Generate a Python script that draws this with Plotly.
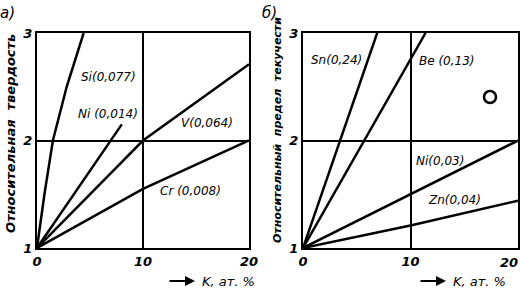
import plotly.graph_objects as go

# ---- data ----
# panel а) relative hardness
si_k = [0, 0.7, 1.5, 2.8, 4.4]
si_y = [1, 1.5, 2.0, 2.5, 3.0]
ni_a_k = [0, 8.0]
ni_a_y = [1, 2.15]
v_k = [0, 5, 10, 20]
v_y = [1, 1.5, 2.0, 2.71]
cr_k = [0, 10, 20]
cr_y = [1, 1.55, 2.0]

# panel б) relative yield stress
sn_k = [0, 6.9]
sn_y = [1, 3.0]
be_k = [0, 11.4]
be_y = [1, 3.0]
ni_b_k = [0, 20]
ni_b_y = [1, 2.0]
zn_k = [0, 10, 20]
zn_y = [1, 1.21, 1.44]

x_ticks = [0, 10, 20]
x_labels = ["0", "10", "20"]
y_ticks = [1, 2, 3]

W, H = 520, 288
fig = go.Figure()

line = dict(color="black", width=2.5)
for k, y in [(si_k, si_y), (ni_a_k, ni_a_y), (v_k, v_y), (cr_k, cr_y)]:
    fig.add_trace(go.Scatter(x=k, y=y, mode="lines", line=line, xaxis="x", yaxis="y",
                             showlegend=False, hoverinfo="skip"))
for k, y in [(sn_k, sn_y), (be_k, be_y), (ni_b_k, ni_b_y), (zn_k, zn_y)]:
    fig.add_trace(go.Scatter(x=k, y=y, mode="lines", line=line, xaxis="x2", yaxis="y2",
                             showlegend=False, hoverinfo="skip"))

tickfont = dict(family="DejaVu Sans", size=13, color="black", style="italic", weight="bold")
ax_common = dict(showline=True, mirror=True, linecolor="black", linewidth=2,
                 showgrid=True, gridcolor="black", gridwidth=2, zeroline=False,
                 ticks="", tickfont=tickfont, fixedrange=True, automargin=False)

def px(x):
    return x / W

def py(y):
    return 1 - y / H

fig.update_layout(
    width=W, height=H, margin=dict(l=0, r=0, t=0, b=0, pad=0),
    paper_bgcolor="white", plot_bgcolor="white",
    xaxis=dict(domain=[px(37), px(249)], range=[0, 20], tickvals=x_ticks, ticktext=x_labels,
               anchor="y", **ax_common),
    yaxis=dict(domain=[py(248), py(33)], range=[1, 3], tickvals=y_ticks, anchor="x", **ax_common),
    # last label of the right panel sits at the page edge; it is placed as an annotation below
    xaxis2=dict(domain=[px(303), px(518)], range=[0, 20], tickvals=x_ticks,
                ticktext=x_labels[:-1] + [""], anchor="y2", **ax_common),
    yaxis2=dict(domain=[py(248), py(33)], range=[1, 3], tickvals=y_ticks, anchor="x2", **ax_common),
)

lab_font = dict(family="DejaVu Sans", size=12, color="black", style="italic")
labels = [
    ("Si(0,077)", 108, 77), ("Ni (0,014)", 108, 114), ("V(0,064)", 207, 123), ("Cr (0,008)", 190, 191),
    ("Sn(0,24)", 336, 60), ("Be (0,13)", 447, 61), ("Ni(0,03)", 440, 161), ("Zn(0,04)", 454, 200),
]
anns = []
for t, x, y in labels:
    anns.append(dict(text=t, x=px(x), y=py(y), xref="paper", yref="paper", showarrow=False,
                     font=lab_font, xanchor="center", yanchor="middle"))

anns.append(dict(text=x_labels[-1], x=1.0, y=py(262), xref="paper", yref="paper", showarrow=False,
                 font=tickfont, xanchor="right", yanchor="middle"))

# panel letters
anns.append(dict(text="а)", x=px(7), y=py(13), xref="paper", yref="paper", showarrow=False,
                 font=dict(family="DejaVu Sans", size=15, color="black", style="italic"),
                 xanchor="center", yanchor="middle"))
anns.append(dict(text="б)", x=px(269), y=py(13), xref="paper", yref="paper", showarrow=False,
                 font=dict(family="DejaVu Sans", size=15, color="black", style="italic"),
                 xanchor="center", yanchor="middle"))

# y titles
ytf = dict(family="DejaVu Sans", size=13, color="black", style="italic", weight="bold")
anns.append(dict(text="Относительная  твердость", x=px(10), y=py(134), xref="paper", yref="paper",
                 showarrow=False, textangle=-90, font=ytf, xanchor="center", yanchor="middle"))
anns.append(dict(text="Относительный  предел  текучести", x=px(277), y=py(130), xref="paper", yref="paper",
                 showarrow=False, textangle=-90, font=dict(ytf, size=11), xanchor="center", yanchor="middle"))

# x titles with arrows
xtf = dict(family="DejaVu Sans", size=13, color="black", style="italic")
for head_x, text_x in [(195, 200), (446, 451)]:
    anns.append(dict(text="", x=px(head_x), y=py(281), xref="paper", yref="paper", showarrow=True,
                     ax=-27, ay=0, arrowhead=2, arrowsize=1, arrowwidth=2, arrowcolor="black"))
    anns.append(dict(text="K, ат. %", x=px(text_x), y=py(281), xref="paper", yref="paper",
                     showarrow=False, font=xtf, xanchor="left", yanchor="middle"))

fig.update_layout(annotations=anns)

# open circle mark in panel б)
fig.add_shape(type="circle", xref="paper", yref="paper",
              x0=px(484), x1=px(496), y0=py(103), y1=py(91),
              line=dict(color="black", width=2.5), fillcolor="rgba(0,0,0,0)")

fig.write_html("out.html")
